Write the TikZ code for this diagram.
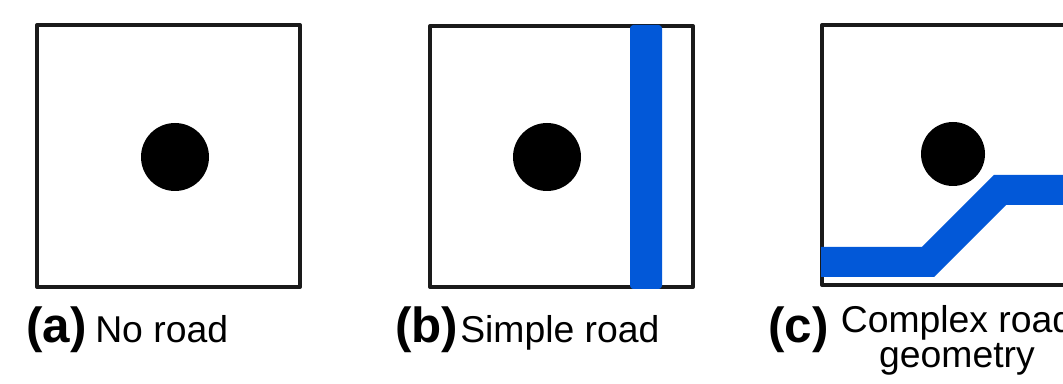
\documentclass[tikz,border=0pt]{standalone}
\usepackage{fontspec}
\setmainfont{Liberation Sans}
\definecolor{roadblue}{RGB}{2,88,216}
\definecolor{frame}{RGB}{26,26,26}
\begin{document}
\begin{tikzpicture}[x=0.75pt,y=-0.75pt,
  panel/.style={draw=frame,line width=3pt,line join=round},
  dot/.style={fill=black},
  road/.style={draw=roadblue,line width=22.5pt,line cap=butt,line join=miter},
  tag/.style={anchor=base west,inner sep=0pt,font=\fontsize{37}{40}\selectfont\bfseries},
  caption/.style={anchor=base west,inner sep=0pt,font=\fontsize{28}{26.25}\selectfont}]
\useasboundingbox (0,0) rectangle (1063,384);
% panel a
\draw[panel] (37,25) rectangle (300,287);
\fill[dot] (175,157) circle (34);
% panel b
\draw[panel] (430,26) rectangle (693,287);
\fill[dot] (547,157) circle (34);
\fill[roadblue,rounded corners=2.5pt] (630,25) rectangle (662,289);
% panel c
\draw[panel] (822,25) rectangle (1090,285);
\fill[dot] (953,154) circle (32);
\coordinate (r0) at (821,262);
\coordinate (r1) at (928,262);
\coordinate (r2) at (1000,190);
\coordinate (r3) at (1070,190);
\draw[road] (r0) -- (r1) -- (r2) -- (r3);
% labels
\node[tag] (ta) at (26,343) {(a)};
\node[caption] (ca) at (95,343) {No road};
\node[tag] (tb) at (395,343) {(b)};
\node[caption] (cb) at (460,343) {Simple road};
\node[tag] (tc) at (768,343) {(c)};
\node[inner sep=0pt,anchor=base,align=center,font=\fontsize{28}{26.25}\selectfont] (cc) at (957,368) {Complex road\\geometry};
\end{tikzpicture}
\end{document}
